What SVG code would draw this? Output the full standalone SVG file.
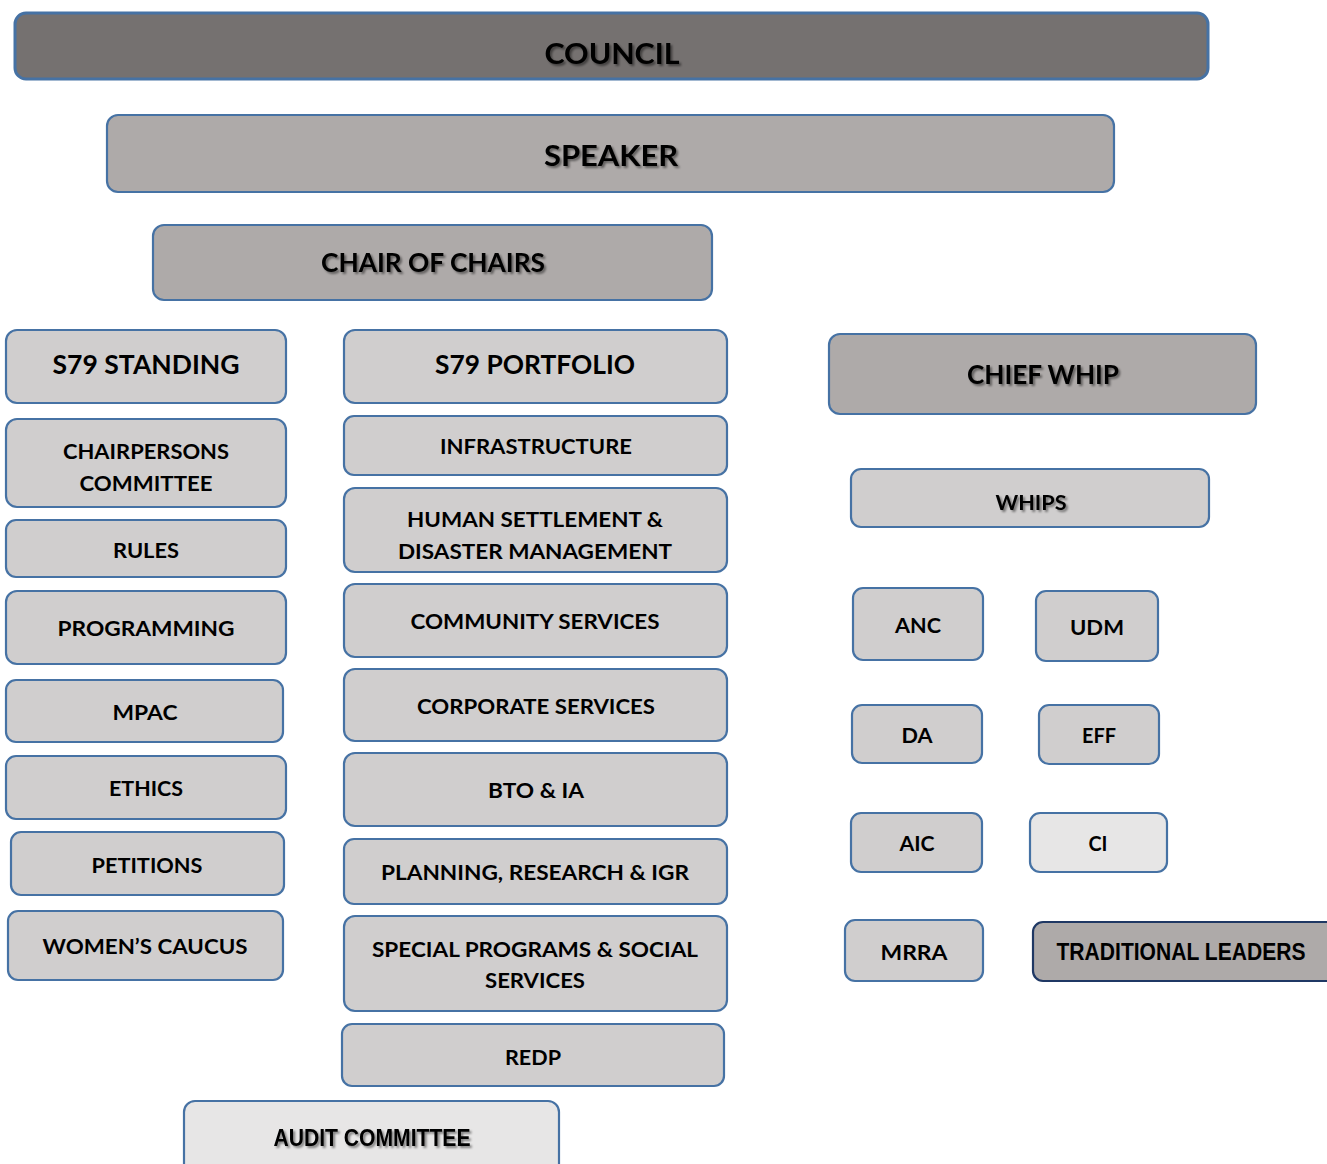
<svg xmlns="http://www.w3.org/2000/svg" width="1327" height="1164" viewBox="0 0 1327 1164">
<defs>
<filter id="sh" x="-10%" y="-30%" width="120%" height="160%">
<feDropShadow dx="2" dy="2" stdDeviation="1.2" flood-color="#000" flood-opacity="0.45"/>
</filter>
</defs>
<style>
rect{stroke:#4672a4;stroke-width:2.2}
.c0{fill:#757170;stroke-width:3}
.c1{fill:#aeaaa9}
.c2{fill:#d0cece}
.c3{fill:#e7e6e6}
.nv{stroke:#1f3864}
text{font-family:Lato,"Open Sans","Liberation Sans",sans-serif;font-weight:bold;fill:#000;text-anchor:middle}
.n{font-family:"Liberation Sans Narrow","Liberation Sans",Arial,sans-serif}
.s{filter:url(#sh)}
.t{font-size:21px}
.h{font-size:26px}
.b{font-size:29px}
</style>
<g id="connectors"></g>
<g id="council"><rect class="c0" x="15" y="13" width="1193" height="66" rx="11"/><text class="b s" x="612" y="64" textLength="135" lengthAdjust="spacingAndGlyphs">COUNCIL</text></g>
<g id="speaker"><rect class="c1" x="107" y="115" width="1007" height="77" rx="11"/><text class="b s" x="611" y="166" textLength="134" lengthAdjust="spacingAndGlyphs">SPEAKER</text></g>
<g id="chair-of-chairs"><rect class="c1" x="153" y="225" width="559" height="75" rx="11"/><text class="h s" x="433" y="272" textLength="224" lengthAdjust="spacingAndGlyphs">CHAIR OF CHAIRS</text></g>

<g id="s79-standing"><rect class="c2" x="6" y="330" width="280" height="73" rx="11"/><text class="h" x="146" y="374" textLength="187" lengthAdjust="spacingAndGlyphs">S79 STANDING</text></g>
<g id="chairpersons"><rect class="c2" x="6" y="419" width="280" height="88" rx="11"/><text class="t" x="146" y="459" textLength="166" lengthAdjust="spacingAndGlyphs">CHAIRPERSONS</text><text class="t" x="146" y="491" textLength="133" lengthAdjust="spacingAndGlyphs">COMMITTEE</text></g>
<g id="rules"><rect class="c2" x="6" y="520" width="280" height="57" rx="10"/><text class="t" x="146" y="558" textLength="66" lengthAdjust="spacingAndGlyphs">RULES</text></g>
<g id="programming"><rect class="c2" x="6" y="591" width="280" height="73" rx="11"/><text class="t" x="146" y="636" textLength="177" lengthAdjust="spacingAndGlyphs">PROGRAMMING</text></g>
<g id="mpac"><rect class="c2" x="6" y="680" width="277" height="62" rx="10"/><text class="t" x="145" y="720" textLength="65" lengthAdjust="spacingAndGlyphs">MPAC</text></g>
<g id="ethics"><rect class="c2" x="6" y="756" width="280" height="63" rx="10"/><text class="t" x="146" y="796" textLength="74" lengthAdjust="spacingAndGlyphs">ETHICS</text></g>
<g id="petitions"><rect class="c2" x="11" y="832" width="273" height="63" rx="10"/><text class="t" x="147" y="873" textLength="111" lengthAdjust="spacingAndGlyphs">PETITIONS</text></g>
<g id="womens-caucus"><rect class="c2" x="8" y="911" width="275" height="69" rx="10"/><text class="t" x="145" y="954" textLength="205" lengthAdjust="spacingAndGlyphs">WOMEN’S CAUCUS</text></g>

<g id="s79-portfolio"><rect class="c2" x="344" y="330" width="383" height="73" rx="11"/><text class="h" x="535" y="374" textLength="200" lengthAdjust="spacingAndGlyphs">S79 PORTFOLIO</text></g>
<g id="infrastructure"><rect class="c2" x="344" y="416" width="383" height="59" rx="10"/><text class="t" x="536" y="454" textLength="192" lengthAdjust="spacingAndGlyphs">INFRASTRUCTURE</text></g>
<g id="human-settlement"><rect class="c2" x="344" y="488" width="383" height="84" rx="11"/><text class="t" x="535" y="527" textLength="256" lengthAdjust="spacingAndGlyphs">HUMAN SETTLEMENT &amp;</text><text class="t" x="535" y="559" textLength="274" lengthAdjust="spacingAndGlyphs">DISASTER MANAGEMENT</text></g>
<g id="community-services"><rect class="c2" x="344" y="584" width="383" height="73" rx="11"/><text class="t" x="535" y="629" textLength="249" lengthAdjust="spacingAndGlyphs">COMMUNITY SERVICES</text></g>
<g id="corporate-services"><rect class="c2" x="344" y="669" width="383" height="72" rx="11"/><text class="t" x="536" y="714" textLength="238" lengthAdjust="spacingAndGlyphs">CORPORATE SERVICES</text></g>
<g id="bto-ia"><rect class="c2" x="344" y="753" width="383" height="73" rx="11"/><text class="t" x="536" y="798" textLength="96" lengthAdjust="spacingAndGlyphs">BTO &amp; IA</text></g>
<g id="planning"><rect class="c2" x="344" y="839" width="383" height="65" rx="10"/><text class="t" x="535" y="880" textLength="308" lengthAdjust="spacingAndGlyphs">PLANNING, RESEARCH &amp; IGR</text></g>
<g id="special-programs"><rect class="c2" x="344" y="916" width="383" height="95" rx="11"/><text class="t" x="535" y="957" textLength="326" lengthAdjust="spacingAndGlyphs">SPECIAL PROGRAMS &amp; SOCIAL</text><text class="t" x="535" y="988" textLength="100" lengthAdjust="spacingAndGlyphs">SERVICES</text></g>
<g id="redp"><rect class="c2" x="342" y="1024" width="382" height="62" rx="10"/><text class="t" x="533" y="1065" textLength="56" lengthAdjust="spacingAndGlyphs">REDP</text></g>
<g id="audit-committee"><rect class="c3" x="184" y="1101" width="375" height="80" rx="11"/><text class="n s" x="372" y="1146" font-size="24" textLength="197" lengthAdjust="spacingAndGlyphs">AUDIT COMMITTEE</text></g>

<g id="chief-whip"><rect class="c1" x="829" y="334" width="427" height="80" rx="11"/><text class="h s" x="1043" y="384" textLength="152" lengthAdjust="spacingAndGlyphs">CHIEF WHIP</text></g>
<g id="whips"><rect class="c2" x="851" y="469" width="358" height="58" rx="10"/><text class="t s" x="1031" y="510" textLength="71" lengthAdjust="spacingAndGlyphs">WHIPS</text></g>
<g id="anc"><rect class="c2" x="853" y="588" width="130" height="72" rx="10"/><text class="t" x="918" y="633" textLength="46" lengthAdjust="spacingAndGlyphs">ANC</text></g>
<g id="udm"><rect class="c2" x="1036" y="591" width="122" height="70" rx="10"/><text class="t" x="1097" y="635" textLength="54" lengthAdjust="spacingAndGlyphs">UDM</text></g>
<g id="da"><rect class="c2" x="852" y="705" width="130" height="58" rx="10"/><text class="t" x="917" y="743" textLength="31" lengthAdjust="spacingAndGlyphs">DA</text></g>
<g id="eff"><rect class="c2" x="1039" y="705" width="120" height="59" rx="10"/><text class="t" x="1099" y="743" textLength="34" lengthAdjust="spacingAndGlyphs">EFF</text></g>
<g id="aic"><rect class="c2" x="851" y="813" width="131" height="59" rx="10"/><text class="t" x="917" y="851" textLength="35" lengthAdjust="spacingAndGlyphs">AIC</text></g>
<g id="ci"><rect class="c3" x="1030" y="813" width="137" height="59" rx="10"/><text class="t" x="1098" y="851" textLength="19" lengthAdjust="spacingAndGlyphs">CI</text></g>
<g id="mrra"><rect class="c2" x="845" y="920" width="138" height="61" rx="10"/><text class="t" x="914" y="960" textLength="67" lengthAdjust="spacingAndGlyphs">MRRA</text></g>
<g id="traditional-leaders"><rect class="c1 nv" x="1033" y="922" width="310" height="59" rx="10"/><text class="n" x="1181" y="960" font-size="23" textLength="249" lengthAdjust="spacingAndGlyphs">TRADITIONAL LEADERS</text></g>
</svg>
